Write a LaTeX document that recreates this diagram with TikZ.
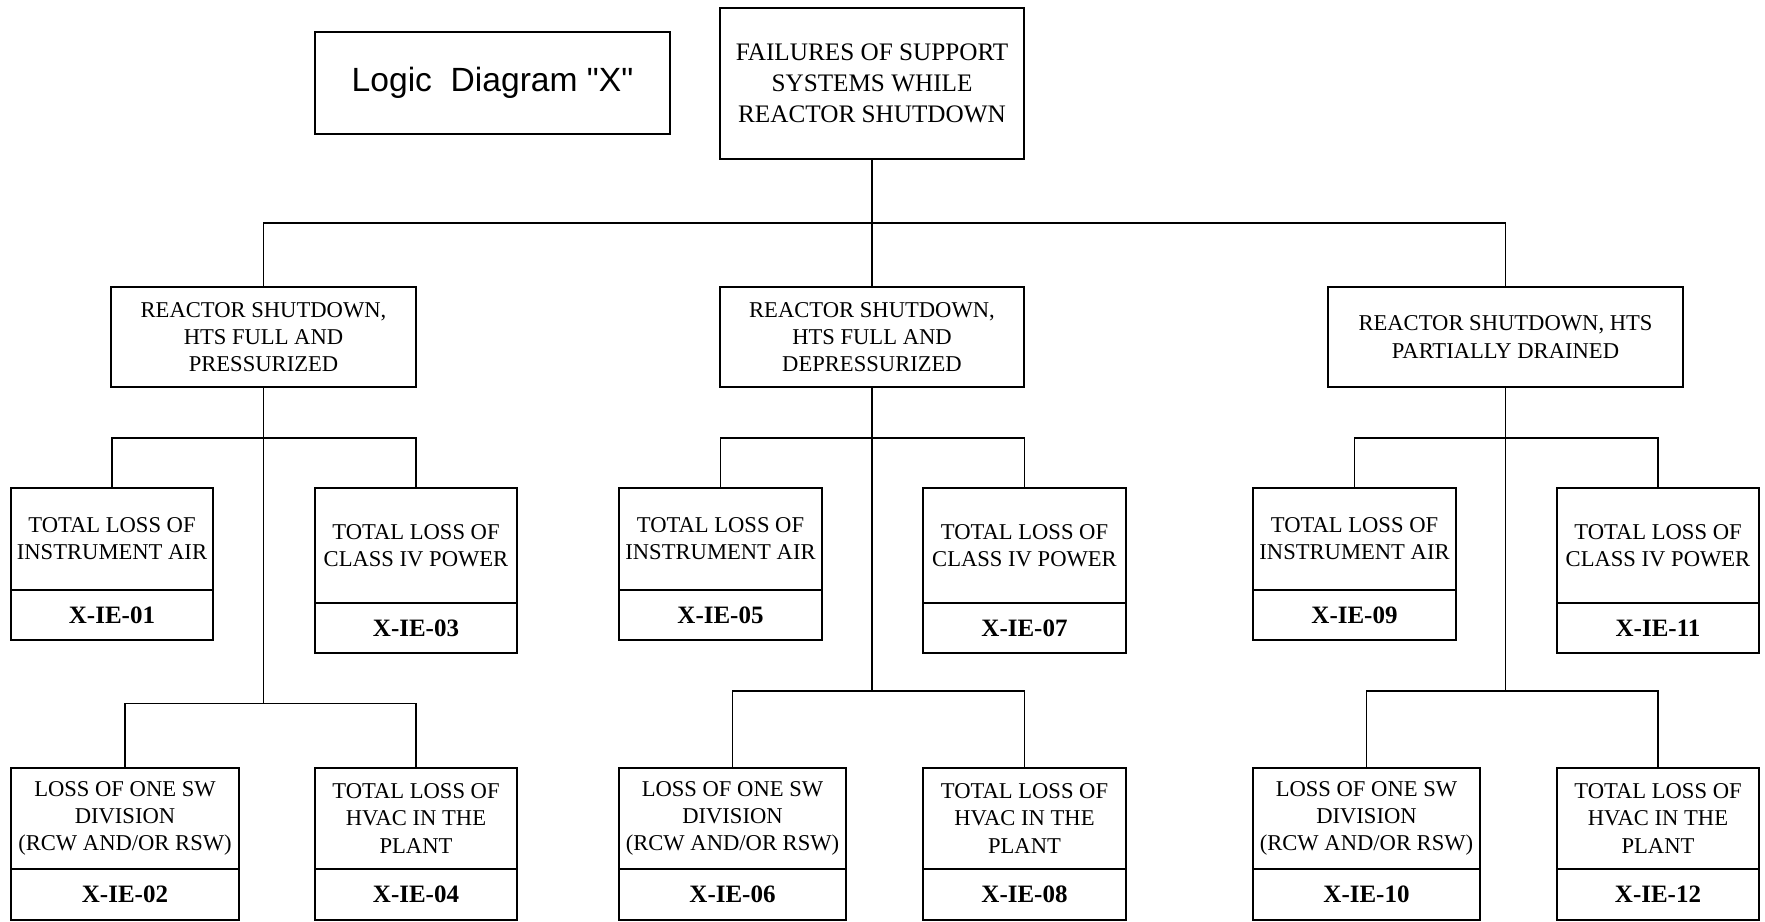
\documentclass[tikz,border=0pt]{standalone}
\usepackage{fontspec}
\setmainfont{Liberation Serif}
\newfontfamily\labelsans{Liberation Sans}

% \boxnode{style}{name}{x1}{y1}{x2}{y2}{text}: a framed box given by its corners
\newcommand\boxnode[7]{%
  \node[#1, minimum width={(#5-#3)*0.5pt}, minimum height={(#6-#4)*0.5pt}]
    (#2) at ({(#3+#5)/2},{(#4+#6)/2}) {#7};}

\begin{document}
\begin{tikzpicture}[x=0.5pt,y=-0.5pt,
  box/.style={draw=black, line width=0.6pt, align=center, inner sep=0pt,
    outer sep=0pt, font=\fontsize{11.3}{13.6}\selectfont},
  idbox/.style={box, font=\fontsize{12.5}{15}\selectfont\bfseries},
  topbox/.style={box, font=\fontsize{12.6}{15.5}\selectfont},
  titlebox/.style={box, line width=1.1pt, font=\labelsans\fontsize{16.8}{20}\selectfont},
  link/.style={draw=black, line width=0.6pt}]
\useasboundingbox (0,0) rectangle (1765,921);

% title and root event
\boxnode{titlebox}{logic}{315}{32}{670}{134}{Logic\ \ Diagram "X"}
\boxnode{topbox}{top}{720}{8}{1024}{159}{FAILURES OF SUPPORT\\SYSTEMS WHILE\\REACTOR SHUTDOWN}

% plant states
\boxnode{box}{mL}{111}{287}{416}{387}{REACTOR SHUTDOWN,\\HTS FULL AND\\PRESSURIZED}
\boxnode{box}{mM}{720}{287}{1024}{387}{REACTOR SHUTDOWN,\\HTS FULL AND\\DEPRESSURIZED}
\boxnode{box}{mR}{1328}{287}{1683}{387}{REACTOR SHUTDOWN, HTS\\PARTIALLY DRAINED}

% initiating events, upper row
\boxnode{box}{ie01t}{11}{488}{213}{590}{TOTAL LOSS OF\\INSTRUMENT AIR}
\boxnode{idbox}{ie01}{11}{590}{213}{640}{X-IE-01}
\boxnode{box}{ie03t}{315}{488}{517}{603}{TOTAL LOSS OF\\CLASS IV POWER}
\boxnode{idbox}{ie03}{315}{603}{517}{653}{X-IE-03}
\boxnode{box}{ie05t}{619}{488}{822}{590}{TOTAL LOSS OF\\INSTRUMENT AIR}
\boxnode{idbox}{ie05}{619}{590}{822}{640}{X-IE-05}
\boxnode{box}{ie07t}{923}{488}{1126}{603}{TOTAL LOSS OF\\CLASS IV POWER}
\boxnode{idbox}{ie07}{923}{603}{1126}{653}{X-IE-07}
\boxnode{box}{ie09t}{1253}{488}{1456}{590}{TOTAL LOSS OF\\INSTRUMENT AIR}
\boxnode{idbox}{ie09}{1253}{590}{1456}{640}{X-IE-09}
\boxnode{box}{ie11t}{1557}{488}{1759}{603}{TOTAL LOSS OF\\CLASS IV POWER}
\boxnode{idbox}{ie11}{1557}{603}{1759}{653}{X-IE-11}

% initiating events, lower row
\boxnode{box}{ie02t}{11}{768}{239}{869}{LOSS OF ONE SW\\DIVISION\\(RCW AND/OR RSW)}
\boxnode{idbox}{ie02}{11}{869}{239}{920}{X-IE-02}
\boxnode{box}{ie04t}{315}{768}{517}{869}{TOTAL LOSS OF\\HVAC IN THE\\PLANT}
\boxnode{idbox}{ie04}{315}{869}{517}{920}{X-IE-04}
\boxnode{box}{ie06t}{619}{768}{846}{869}{LOSS OF ONE SW\\DIVISION\\(RCW AND/OR RSW)}
\boxnode{idbox}{ie06}{619}{869}{846}{920}{X-IE-06}
\boxnode{box}{ie08t}{923}{768}{1126}{869}{TOTAL LOSS OF\\HVAC IN THE\\PLANT}
\boxnode{idbox}{ie08}{923}{869}{1126}{920}{X-IE-08}
\boxnode{box}{ie10t}{1253}{768}{1480}{869}{LOSS OF ONE SW\\DIVISION\\(RCW AND/OR RSW)}
\boxnode{idbox}{ie10}{1253}{869}{1480}{920}{X-IE-10}
\boxnode{box}{ie12t}{1557}{768}{1759}{869}{TOTAL LOSS OF\\HVAC IN THE\\PLANT}
\boxnode{idbox}{ie12}{1557}{869}{1759}{920}{X-IE-12}

% bus levels
\coordinate (bus1) at (0,223);
\coordinate (bus2) at (0,438);
\coordinate (bus3L) at (0,703.5);
\coordinate (bus3) at (0,691);

% root to plant states
\draw[link] (top.south) -- (mM.north);
\draw[link] (mL.north) -- (mL.north |- bus1) -- (mR.north |- bus1) -- (mR.north);

% left group
\draw[link] (mL.south) -- (mL.south |- bus3L);
\draw[link] (ie01t.north) |- (ie03t.north |- bus2) -- (ie03t.north);
\draw[link] (ie02t.north) |- (ie04t.north |- bus3L) -- (ie04t.north);

% middle group
\draw[link] (mM.south) -- (mM.south |- bus3);
\draw[link] (ie05t.north) |- (ie07t.north |- bus2) -- (ie07t.north);
\draw[link] (ie06t.north) |- (ie08t.north |- bus3) -- (ie08t.north);

% right group
\draw[link] (mR.south) -- (mR.south |- bus3);
\draw[link] (ie09t.north) |- (ie11t.north |- bus2) -- (ie11t.north);
\draw[link] (ie10t.north) |- (ie12t.north |- bus3) -- (ie12t.north);
\end{tikzpicture}
\end{document}
